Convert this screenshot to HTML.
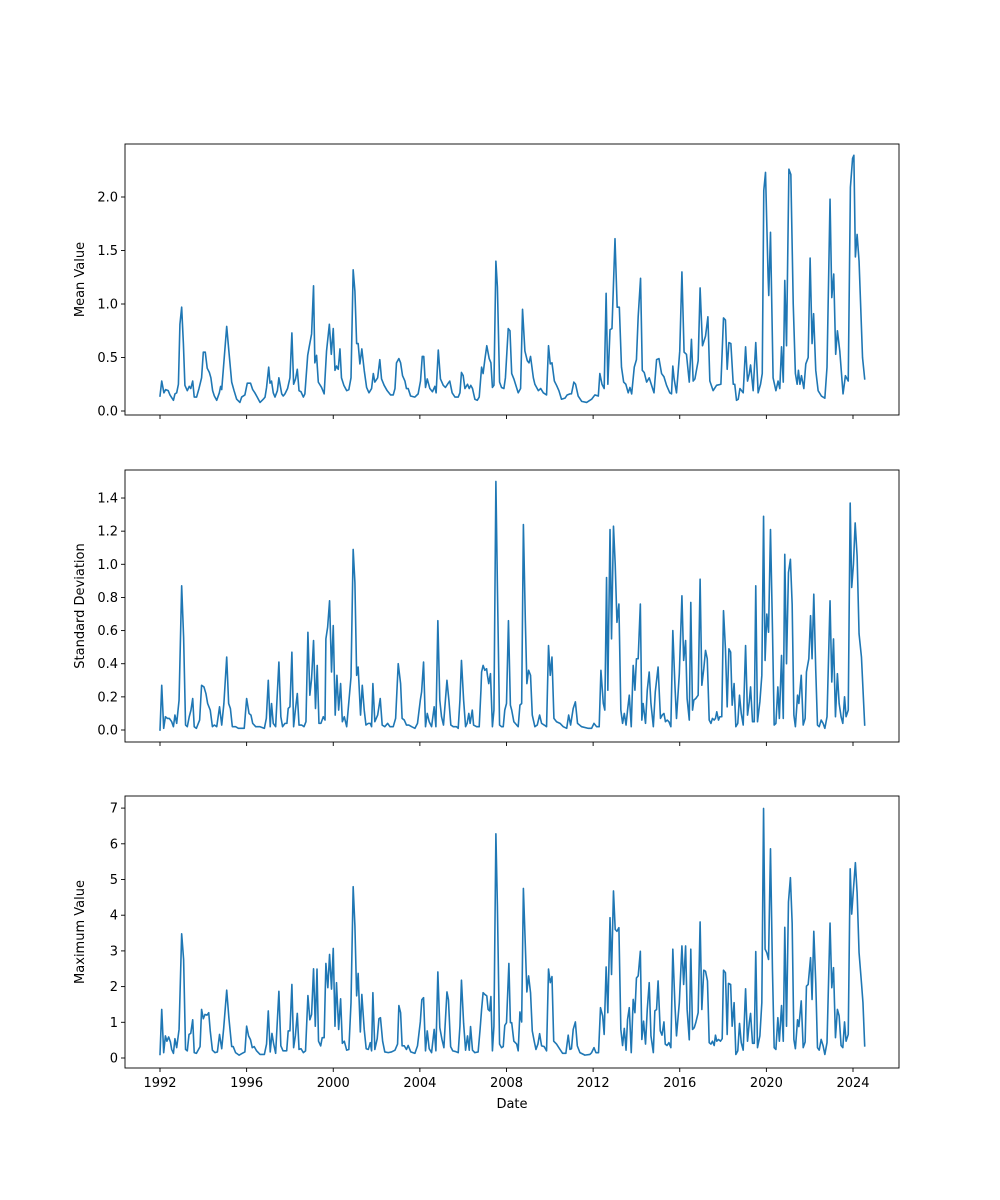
<!DOCTYPE html>
<html><head><meta charset="utf-8"><style>
body{margin:0;background:#fff;}
svg{display:block;font-family:"DejaVu Sans","Liberation Sans",sans-serif;}
</style></head><body>
<svg id="chart" width="1000" height="1200" viewBox="0 0 1000 1200"></svg>
<script>
const meanDates=[1992.0,1992.08,1992.18,1992.26,1992.38,1992.46,1992.62,1992.69,1992.77,1992.85,1992.92,1993.0,1993.08,1993.15,1993.26,1993.35,1993.42,1993.51,1993.58,1993.69,1993.8,1993.92,1994.0,1994.09,1994.18,1994.28,1994.35,1994.43,1994.51,1994.62,1994.74,1994.8,1994.85,1994.92,1995.08,1995.18,1995.31,1995.42,1995.54,1995.69,1995.77,1995.92,1996.03,1996.18,1996.28,1996.38,1996.49,1996.62,1996.77,1996.85,1996.92,1997.02,1997.08,1997.15,1997.23,1997.31,1997.42,1997.49,1997.62,1997.69,1997.77,1997.89,1998.0,1998.09,1998.17,1998.26,1998.34,1998.42,1998.51,1998.62,1998.69,1998.82,1998.89,1999.0,1999.09,1999.15,1999.23,1999.31,1999.46,1999.58,1999.69,1999.82,1999.91,2000.0,2000.08,2000.15,2000.23,2000.31,2000.38,2000.49,2000.62,2000.72,2000.82,2000.92,2001.0,2001.08,2001.15,2001.23,2001.32,2001.43,2001.54,2001.65,2001.77,2001.85,2001.92,2002.05,2002.15,2002.23,2002.35,2002.49,2002.65,2002.77,2002.85,2002.92,2003.03,2003.11,2003.2,2003.31,2003.38,2003.46,2003.57,2003.77,2003.92,2004.03,2004.11,2004.18,2004.26,2004.34,2004.46,2004.58,2004.69,2004.75,2004.85,2004.95,2005.08,2005.18,2005.31,2005.38,2005.49,2005.62,2005.77,2005.85,2005.92,2006.0,2006.08,2006.2,2006.28,2006.35,2006.43,2006.54,2006.65,2006.74,2006.85,2006.92,2007.0,2007.09,2007.2,2007.28,2007.35,2007.42,2007.51,2007.58,2007.68,2007.77,2007.88,2007.95,2008.08,2008.16,2008.24,2008.34,2008.54,2008.65,2008.74,2008.85,2008.96,2009.04,2009.11,2009.24,2009.31,2009.47,2009.58,2009.7,2009.85,2009.94,2010.02,2010.1,2010.21,2010.31,2010.42,2010.54,2010.7,2010.8,2010.93,2011.0,2011.11,2011.19,2011.31,2011.47,2011.7,2011.93,2012.08,2012.24,2012.31,2012.41,2012.51,2012.6,2012.68,2012.78,2012.87,2013.01,2013.11,2013.21,2013.31,2013.41,2013.51,2013.62,2013.7,2013.78,2013.9,2014.0,2014.08,2014.19,2014.27,2014.36,2014.47,2014.59,2014.7,2014.81,2014.93,2015.04,2015.16,2015.27,2015.39,2015.54,2015.62,2015.68,2015.74,2015.85,2016.0,2016.1,2016.2,2016.31,2016.44,2016.54,2016.62,2016.7,2016.85,2016.94,2017.05,2017.19,2017.3,2017.39,2017.54,2017.7,2017.9,2018.02,2018.11,2018.19,2018.27,2018.36,2018.47,2018.54,2018.62,2018.7,2018.78,2018.93,2019.04,2019.13,2019.21,2019.27,2019.39,2019.51,2019.62,2019.73,2019.81,2019.88,2019.96,2020.08,2020.11,2020.19,2020.31,2020.44,2020.54,2020.62,2020.7,2020.78,2020.85,2020.93,2021.04,2021.13,2021.24,2021.34,2021.42,2021.48,2021.55,2021.62,2021.73,2021.82,2021.93,2022.02,2022.11,2022.18,2022.28,2022.39,2022.54,2022.7,2022.8,2022.94,2023.02,2023.11,2023.2,2023.28,2023.39,2023.54,2023.65,2023.78,2023.88,2023.98,2024.04,2024.11,2024.19,2024.28,2024.44,2024.54];
const meanValues=[0.14,0.28,0.17,0.2,0.19,0.15,0.1,0.16,0.17,0.25,0.81,0.97,0.63,0.24,0.19,0.23,0.21,0.28,0.13,0.13,0.21,0.31,0.55,0.55,0.4,0.36,0.31,0.19,0.14,0.1,0.17,0.23,0.2,0.38,0.79,0.56,0.27,0.19,0.11,0.08,0.13,0.15,0.26,0.26,0.2,0.17,0.13,0.08,0.11,0.13,0.22,0.41,0.26,0.28,0.17,0.13,0.19,0.31,0.16,0.14,0.16,0.21,0.31,0.73,0.25,0.3,0.39,0.19,0.18,0.13,0.16,0.52,0.6,0.72,1.17,0.45,0.52,0.27,0.22,0.16,0.56,0.81,0.53,0.77,0.38,0.42,0.39,0.58,0.31,0.24,0.19,0.2,0.31,1.32,1.12,0.63,0.63,0.44,0.58,0.38,0.22,0.17,0.21,0.35,0.27,0.31,0.48,0.3,0.24,0.19,0.15,0.15,0.21,0.45,0.49,0.45,0.33,0.28,0.21,0.21,0.14,0.13,0.16,0.28,0.51,0.51,0.22,0.3,0.21,0.18,0.23,0.17,0.57,0.3,0.24,0.22,0.26,0.28,0.17,0.13,0.13,0.17,0.36,0.33,0.21,0.25,0.21,0.24,0.21,0.11,0.1,0.13,0.41,0.35,0.48,0.61,0.49,0.45,0.22,0.24,1.4,1.16,0.27,0.22,0.21,0.31,0.77,0.75,0.35,0.3,0.17,0.21,0.95,0.56,0.47,0.45,0.51,0.31,0.25,0.19,0.21,0.17,0.15,0.61,0.44,0.45,0.28,0.24,0.19,0.11,0.12,0.15,0.16,0.16,0.27,0.25,0.14,0.09,0.08,0.11,0.15,0.14,0.35,0.25,0.21,1.1,0.25,0.76,0.77,1.61,0.97,0.97,0.41,0.27,0.25,0.17,0.22,0.16,0.41,0.48,0.88,1.24,0.38,0.36,0.27,0.31,0.24,0.17,0.48,0.49,0.35,0.32,0.24,0.17,0.16,0.42,0.3,0.17,0.56,1.3,0.55,0.53,0.27,0.67,0.28,0.3,0.47,1.15,0.61,0.7,0.88,0.28,0.19,0.24,0.25,0.87,0.85,0.39,0.64,0.63,0.25,0.25,0.1,0.11,0.21,0.17,0.6,0.28,0.35,0.43,0.19,0.64,0.17,0.25,0.35,2.06,2.23,1.25,1.08,1.67,0.31,0.19,0.28,0.21,0.6,0.27,1.22,0.61,2.26,2.21,1.0,0.35,0.25,0.38,0.25,0.33,0.21,0.44,0.5,1.43,0.63,0.91,0.38,0.19,0.14,0.12,0.41,1.98,1.06,1.28,0.53,0.75,0.56,0.16,0.33,0.28,2.09,2.36,2.39,1.44,1.65,1.4,0.5,0.3];

const stdDates=[1992.0,1992.08,1992.17,1992.25,1992.34,1992.43,1992.54,1992.62,1992.69,1992.77,1992.88,1993.0,1993.09,1993.18,1993.26,1993.35,1993.43,1993.51,1993.58,1993.68,1993.83,1993.92,1994.03,1994.12,1994.2,1994.32,1994.42,1994.51,1994.62,1994.75,1994.85,1994.95,1995.08,1995.17,1995.25,1995.34,1995.49,1995.62,1995.8,1995.89,1996.0,1996.11,1996.2,1996.28,1996.42,1996.62,1996.82,1996.91,1997.0,1997.09,1997.15,1997.23,1997.34,1997.49,1997.58,1997.66,1997.77,1997.86,1997.92,1998.0,1998.09,1998.17,1998.25,1998.34,1998.42,1998.54,1998.65,1998.74,1998.83,1998.92,1999.0,1999.09,1999.18,1999.26,1999.34,1999.43,1999.54,1999.62,1999.66,1999.74,1999.83,1999.92,2000.0,2000.09,2000.17,2000.25,2000.34,2000.42,2000.51,2000.62,2000.82,2000.92,2001.0,2001.08,2001.15,2001.26,2001.34,2001.43,2001.51,2001.62,2001.71,2001.77,2001.83,2001.92,2002.05,2002.17,2002.26,2002.38,2002.51,2002.62,2002.77,2002.88,2003.0,2003.11,2003.18,2003.28,2003.38,2003.49,2003.62,2003.77,2003.89,2004.02,2004.08,2004.17,2004.26,2004.34,2004.43,2004.54,2004.66,2004.74,2004.83,2004.92,2005.0,2005.09,2005.25,2005.34,2005.43,2005.54,2005.69,2005.77,2005.85,2005.92,2006.02,2006.11,2006.18,2006.26,2006.32,2006.42,2006.48,2006.62,2006.74,2006.82,2006.85,2006.92,2007.0,2007.08,2007.12,2007.18,2007.26,2007.35,2007.42,2007.51,2007.58,2007.68,2007.77,2007.85,2007.92,2008.0,2008.09,2008.18,2008.24,2008.34,2008.47,2008.54,2008.62,2008.7,2008.78,2008.87,2008.94,2009.02,2009.11,2009.19,2009.31,2009.42,2009.53,2009.62,2009.74,2009.85,2009.94,2010.02,2010.1,2010.19,2010.31,2010.47,2010.62,2010.78,2010.87,2010.96,2011.08,2011.18,2011.28,2011.47,2011.78,2011.93,2012.04,2012.16,2012.28,2012.36,2012.47,2012.54,2012.62,2012.68,2012.78,2012.85,2012.94,2013.02,2013.1,2013.19,2013.28,2013.36,2013.44,2013.52,2013.59,2013.67,2013.76,2013.85,2013.93,2014.0,2014.08,2014.18,2014.25,2014.31,2014.42,2014.5,2014.59,2014.67,2014.78,2014.87,2015.0,2015.11,2015.19,2015.27,2015.34,2015.42,2015.5,2015.59,2015.68,2015.78,2015.85,2015.98,2016.1,2016.18,2016.27,2016.34,2016.44,2016.51,2016.59,2016.65,2016.74,2016.85,2016.94,2017.02,2017.11,2017.19,2017.27,2017.36,2017.44,2017.51,2017.59,2017.65,2017.71,2017.79,2017.85,2017.94,2018.02,2018.11,2018.19,2018.27,2018.35,2018.42,2018.51,2018.59,2018.68,2018.76,2018.84,2018.93,2019.04,2019.13,2019.21,2019.27,2019.36,2019.44,2019.51,2019.59,2019.7,2019.79,2019.87,2019.94,2020.02,2020.1,2020.19,2020.28,2020.36,2020.44,2020.53,2020.6,2020.7,2020.78,2020.85,2020.93,2021.02,2021.11,2021.19,2021.27,2021.34,2021.44,2021.5,2021.61,2021.7,2021.79,2021.85,2021.96,2022.04,2022.11,2022.19,2022.28,2022.36,2022.44,2022.53,2022.62,2022.7,2022.8,2022.94,2023.02,2023.1,2023.19,2023.28,2023.36,2023.45,2023.53,2023.61,2023.68,2023.78,2023.87,2023.94,2024.02,2024.1,2024.19,2024.28,2024.39,2024.54];
const stdValues=[0.0,0.27,0.01,0.08,0.07,0.07,0.05,0.02,0.09,0.04,0.18,0.87,0.56,0.03,0.02,0.08,0.12,0.19,0.02,0.01,0.06,0.27,0.26,0.22,0.16,0.12,0.02,0.03,0.02,0.14,0.03,0.16,0.44,0.16,0.13,0.02,0.02,0.01,0.01,0.01,0.19,0.1,0.09,0.04,0.02,0.02,0.01,0.07,0.3,0.02,0.16,0.04,0.02,0.41,0.08,0.02,0.04,0.04,0.13,0.14,0.47,0.02,0.12,0.22,0.03,0.03,0.02,0.05,0.59,0.21,0.31,0.54,0.13,0.39,0.04,0.04,0.08,0.06,0.55,0.62,0.78,0.35,0.63,0.09,0.33,0.12,0.28,0.05,0.08,0.02,0.32,1.09,0.89,0.33,0.38,0.09,0.27,0.12,0.03,0.04,0.04,0.02,0.28,0.05,0.09,0.19,0.03,0.02,0.04,0.02,0.02,0.07,0.4,0.28,0.07,0.06,0.03,0.03,0.02,0.01,0.04,0.18,0.23,0.41,0.02,0.1,0.05,0.02,0.14,0.02,0.66,0.18,0.08,0.03,0.3,0.18,0.03,0.02,0.02,0.01,0.18,0.42,0.18,0.02,0.04,0.1,0.04,0.12,0.03,0.02,0.02,0.24,0.35,0.39,0.36,0.37,0.33,0.28,0.34,0.02,0.12,1.5,0.87,0.03,0.02,0.02,0.12,0.16,0.66,0.15,0.12,0.05,0.03,0.02,0.15,0.16,1.24,0.66,0.28,0.36,0.33,0.09,0.02,0.03,0.09,0.04,0.03,0.02,0.51,0.33,0.44,0.07,0.05,0.04,0.02,0.01,0.09,0.03,0.13,0.17,0.04,0.02,0.01,0.01,0.04,0.02,0.02,0.36,0.16,0.12,0.92,0.24,1.21,0.55,1.23,1.0,0.65,0.76,0.12,0.04,0.1,0.03,0.12,0.21,0.02,0.39,0.24,0.43,0.43,0.76,0.06,0.16,0.04,0.24,0.35,0.16,0.02,0.23,0.38,0.07,0.09,0.1,0.05,0.06,0.05,0.02,0.6,0.26,0.07,0.34,0.81,0.42,0.54,0.19,0.06,0.77,0.12,0.18,0.19,0.21,0.91,0.27,0.37,0.48,0.43,0.06,0.04,0.07,0.06,0.07,0.11,0.06,0.08,0.08,0.72,0.49,0.14,0.49,0.47,0.15,0.28,0.02,0.04,0.21,0.1,0.03,0.51,0.09,0.17,0.26,0.05,0.05,0.87,0.05,0.17,0.33,1.29,0.42,0.7,0.59,1.21,0.62,0.03,0.04,0.26,0.07,0.45,0.07,1.06,0.4,0.95,1.03,0.76,0.09,0.02,0.21,0.16,0.33,0.03,0.07,0.35,0.43,0.69,0.43,0.82,0.36,0.03,0.02,0.06,0.04,0.01,0.08,0.78,0.29,0.55,0.08,0.34,0.16,0.08,0.04,0.2,0.08,0.12,1.37,0.86,1.0,1.25,1.05,0.58,0.44,0.03];

const maxDates=[1992.0,1992.08,1992.17,1992.25,1992.32,1992.4,1992.48,1992.54,1992.62,1992.69,1992.77,1992.88,1993.0,1993.09,1993.18,1993.26,1993.34,1993.42,1993.51,1993.58,1993.68,1993.85,1993.92,1994.0,1994.08,1994.17,1994.25,1994.32,1994.42,1994.54,1994.65,1994.75,1994.85,1994.94,1995.08,1995.18,1995.31,1995.38,1995.49,1995.65,1995.8,1995.92,1996.0,1996.09,1996.18,1996.26,1996.35,1996.46,1996.62,1996.82,1996.92,1997.0,1997.09,1997.17,1997.25,1997.34,1997.49,1997.58,1997.68,1997.77,1997.85,1997.92,1998.0,1998.09,1998.17,1998.25,1998.34,1998.42,1998.51,1998.62,1998.72,1998.83,1998.92,1999.0,1999.09,1999.17,1999.25,1999.32,1999.42,1999.49,1999.58,1999.66,1999.75,1999.83,1999.92,2000.0,2000.08,2000.15,2000.25,2000.34,2000.42,2000.51,2000.62,2000.72,2000.82,2000.92,2001.0,2001.08,2001.15,2001.25,2001.32,2001.43,2001.52,2001.62,2001.71,2001.77,2001.83,2001.92,2002.03,2002.11,2002.18,2002.28,2002.38,2002.54,2002.69,2002.85,2002.97,2003.03,2003.11,2003.18,2003.28,2003.38,2003.46,2003.58,2003.77,2003.89,2004.02,2004.09,2004.17,2004.26,2004.34,2004.43,2004.54,2004.66,2004.74,2004.83,2004.92,2005.02,2005.11,2005.25,2005.32,2005.42,2005.52,2005.65,2005.77,2005.85,2005.92,2006.02,2006.11,2006.2,2006.28,2006.34,2006.43,2006.54,2006.69,2006.78,2006.85,2006.92,2007.0,2007.09,2007.15,2007.22,2007.28,2007.35,2007.42,2007.51,2007.58,2007.68,2007.77,2007.85,2007.92,2008.0,2008.11,2008.18,2008.24,2008.34,2008.47,2008.54,2008.62,2008.7,2008.78,2008.87,2008.94,2009.02,2009.11,2009.19,2009.28,2009.36,2009.45,2009.53,2009.62,2009.74,2009.85,2009.94,2010.02,2010.1,2010.18,2010.31,2010.47,2010.59,2010.74,2010.85,2010.93,2011.0,2011.08,2011.18,2011.27,2011.39,2011.62,2011.85,2011.93,2012.04,2012.13,2012.25,2012.34,2012.44,2012.51,2012.6,2012.68,2012.78,2012.85,2012.94,2013.02,2013.1,2013.19,2013.28,2013.36,2013.44,2013.52,2013.59,2013.67,2013.76,2013.85,2013.93,2014.0,2014.08,2014.18,2014.25,2014.33,2014.42,2014.5,2014.59,2014.67,2014.78,2014.85,2014.93,2015.0,2015.1,2015.18,2015.27,2015.33,2015.41,2015.5,2015.59,2015.68,2015.78,2015.85,2015.98,2016.1,2016.18,2016.27,2016.34,2016.44,2016.51,2016.59,2016.67,2016.74,2016.85,2016.94,2017.02,2017.11,2017.19,2017.28,2017.36,2017.44,2017.51,2017.59,2017.65,2017.71,2017.79,2017.88,2017.96,2018.02,2018.11,2018.19,2018.25,2018.35,2018.42,2018.51,2018.59,2018.68,2018.76,2018.84,2018.93,2019.04,2019.13,2019.21,2019.27,2019.36,2019.44,2019.51,2019.59,2019.7,2019.79,2019.87,2019.94,2020.02,2020.1,2020.19,2020.28,2020.36,2020.44,2020.53,2020.6,2020.7,2020.78,2020.85,2020.93,2021.02,2021.11,2021.19,2021.27,2021.34,2021.44,2021.5,2021.61,2021.7,2021.79,2021.85,2021.93,2022.04,2022.11,2022.19,2022.28,2022.36,2022.44,2022.53,2022.62,2022.7,2022.8,2022.94,2023.02,2023.1,2023.19,2023.28,2023.36,2023.45,2023.53,2023.61,2023.68,2023.78,2023.87,2023.94,2024.02,2024.11,2024.19,2024.28,2024.39,2024.46,2024.54];
const maxValues=[0.1,1.36,0.15,0.62,0.47,0.59,0.45,0.24,0.13,0.54,0.29,0.8,3.48,2.76,0.24,0.2,0.66,0.69,1.07,0.15,0.13,0.32,1.36,1.1,1.22,1.2,1.27,0.76,0.22,0.15,0.17,0.66,0.26,0.83,1.9,1.13,0.32,0.32,0.15,0.08,0.13,0.17,0.89,0.62,0.51,0.29,0.32,0.2,0.1,0.1,0.39,1.32,0.17,0.69,0.39,0.13,1.87,0.34,0.2,0.2,0.2,0.76,0.76,2.06,0.29,0.62,1.25,0.24,0.26,0.15,0.2,1.75,1.07,1.22,2.5,0.89,2.49,0.47,0.34,0.57,0.57,2.65,1.97,2.9,1.93,3.07,0.89,2.11,0.8,1.66,0.41,0.47,0.22,0.24,1.55,4.8,3.7,1.74,2.37,0.73,1.78,0.8,0.26,0.24,0.43,0.2,1.83,0.24,0.54,1.1,1.13,0.47,0.17,0.15,0.17,0.22,0.39,1.47,1.27,0.34,0.34,0.24,0.35,0.17,0.13,0.34,1.01,1.63,1.69,0.2,0.76,0.26,0.15,0.8,0.2,2.41,0.85,0.52,0.29,1.85,1.63,0.32,0.2,0.18,0.15,0.89,2.18,0.97,0.22,0.62,0.22,0.88,0.22,0.15,0.17,0.8,1.36,1.83,1.78,1.74,1.36,1.32,1.72,0.2,0.89,6.28,4.26,0.39,0.29,0.32,0.91,0.99,2.65,0.99,0.99,0.47,0.39,0.2,1.29,1.01,4.75,3.14,1.85,2.3,1.83,0.76,0.47,0.24,0.39,0.68,0.34,0.32,0.2,2.49,2.11,2.28,0.47,0.39,0.24,0.13,0.13,0.64,0.24,0.26,0.8,1.01,0.34,0.15,0.08,0.1,0.15,0.29,0.15,0.15,1.41,1.18,0.66,2.55,1.27,3.93,2.34,4.68,3.6,3.55,3.65,0.8,0.35,0.83,0.22,1.08,1.41,0.15,1.64,1.27,2.24,2.3,2.99,0.52,1.03,0.39,1.36,2.11,0.62,0.15,1.32,1.36,2.16,0.76,0.64,1.01,0.39,0.35,0.43,0.29,3.05,1.45,0.62,1.55,3.14,2.06,3.14,1.36,0.51,3.05,0.8,0.85,0.99,1.27,3.81,1.36,2.46,2.43,2.16,0.43,0.39,0.47,0.35,0.64,0.47,0.52,0.47,0.54,2.46,2.39,0.66,2.09,2.06,0.89,1.55,0.1,0.2,0.97,0.43,0.22,1.94,0.47,0.99,1.25,0.41,0.41,2.98,0.29,0.62,1.55,6.99,3.05,2.95,2.76,5.86,2.49,0.29,0.24,1.13,0.47,1.47,0.47,3.66,0.89,4.37,5.05,3.78,0.52,0.26,1.07,0.88,1.6,0.29,0.45,2.01,2.06,2.81,1.64,3.55,2.11,0.29,0.22,0.52,0.34,0.1,0.43,3.78,1.97,2.53,0.57,1.36,1.18,0.35,0.29,1.01,0.47,0.66,5.3,4.03,4.72,5.47,4.63,2.95,2.11,1.55,0.34];

const xTicks=[1992,1996,2000,2004,2008,2012,2016,2020,2024];
const meanTicks=[0.0,0.5,1.0,1.5,2.0];
const stdTicks=[0.0,0.2,0.4,0.6,0.8,1.0,1.2,1.4];
const maxTicks=[0,1,2,3,4,5,6,7];

const NS='http://www.w3.org/2000/svg';
const svg=document.getElementById('chart');
const X0=125,X1=899;
function xScale(yr){return 160+(yr-1992)*(693/32);}
function mk(tag,attrs,parent){const e=document.createElementNS(NS,tag);for(const k in attrs)e.setAttribute(k,attrs[k]);(parent||svg).appendChild(e);return e;}

const panels=[
 {name:'mean',top:144,bottom:415,y0:411,pxPer:107,ticks:meanTicks,fmt:v=>v.toFixed(1),label:'Mean Value',dates:meanDates,vals:meanValues,showX:false},
 {name:'std',top:470,bottom:742,y0:730,pxPer:165.7,ticks:stdTicks,fmt:v=>v.toFixed(1),label:'Standard Deviation',dates:stdDates,vals:stdValues,showX:false},
 {name:'max',top:796,bottom:1068,y0:1058,pxPer:35.7,ticks:maxTicks,fmt:v=>String(v),label:'Maximum Value',dates:maxDates,vals:maxValues,showX:true}
];

panels.forEach(p=>{
  const g=mk('g',{});
  
  
  const yScale=v=>p.y0-v*p.pxPer;
  let d='';
  p.dates.forEach((dt,i)=>{d+=(i?'L':'M')+xScale(dt).toFixed(2)+','+yScale(p.vals[i]).toFixed(2);});
  const line=mk('path',{d:d,fill:'none',stroke:'#1f77b4','stroke-width':1.6,'stroke-linejoin':'round','stroke-linecap':'square'},g);
  
  
  const fr=mk('rect',{x:X0,y:p.top,width:X1-X0,height:p.bottom-p.top,fill:'none',stroke:'#000','stroke-width':0.9},g);
  
  
  p.ticks.forEach(t=>{
    const y=yScale(t);
    const tk=mk('line',{x1:X0-4,x2:X0,y1:y,y2:y,stroke:'#000','stroke-width':0.9},g);
    
    
    const tx=mk('text',{x:X0-7,y:y+4.5,'text-anchor':'end','font-size':'13px',fill:'#000'},g);
    tx.textContent=p.fmt(t);
    
    
  });
  xTicks.forEach(t=>{
    const x=xScale(t);
    const tk=mk('line',{x1:x,x2:x,y1:p.bottom,y2:p.bottom+4,stroke:'#000','stroke-width':0.9},g);
    
    
    if(p.showX){
      const tx=mk('text',{x:x,y:p.bottom+19,'text-anchor':'middle','font-size':'13px',fill:'#000'},g);
      tx.textContent=String(t);
      
      
    }
  });
  const cy=(p.top+p.bottom)/2;
  const yl=mk('text',{x:0,y:0,transform:'translate(84,'+cy+') rotate(-90)','text-anchor':'middle','font-size':'13px',fill:'#000'},g);
  yl.textContent=p.label;
  
  
});
const xl=mk('text',{x:512,y:1108,'text-anchor':'middle','font-size':'13px',fill:'#000'});
xl.textContent='Date';


</script>
</body></html>
